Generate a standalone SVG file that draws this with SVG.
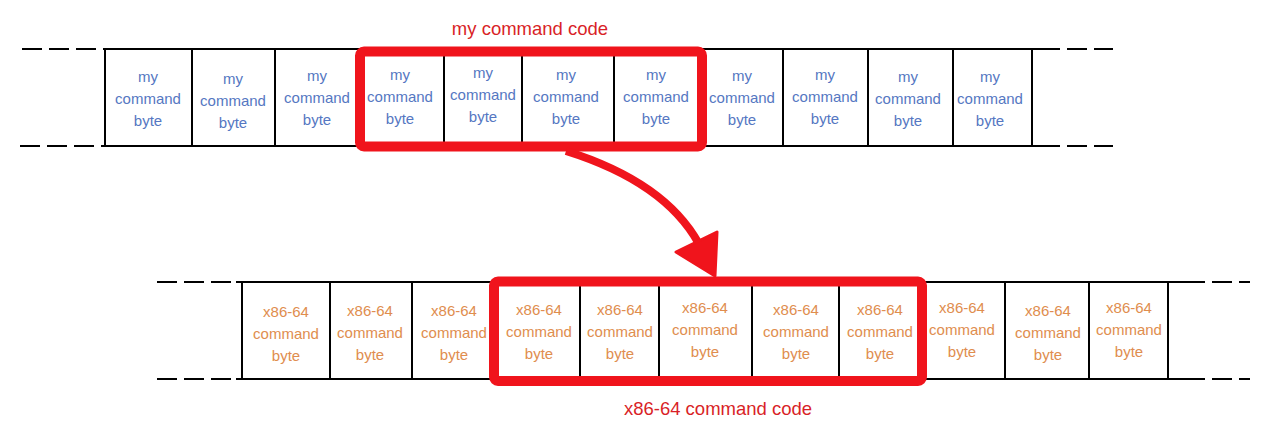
<svg xmlns="http://www.w3.org/2000/svg" width="1280" height="445" viewBox="0 0 1280 445">
<style>
.bg{fill:#ffffff}
.ln{stroke:#000;stroke-width:2;fill:none}
.dash{stroke:#000;stroke-width:2;fill:none;stroke-dasharray:20 7}
.hl{stroke:#f0141c;stroke-width:10;fill:none}
.my{font-family:"Liberation Sans",Arial,sans-serif;font-size:15px;fill:#5577c2;text-anchor:middle}
.xx{font-family:"Liberation Sans",Arial,sans-serif;font-size:15px;fill:#e08d4e;text-anchor:middle}
.ttl{font-family:"Liberation Sans",Arial,sans-serif;font-size:18.5px;fill:#d91f27;text-anchor:middle}
</style>
<defs>
<g id="mytext"><text class="my" y="0">my</text><text class="my" y="22">command</text><text class="my" y="44">byte</text></g>
<g id="xxtext"><text class="xx" y="0">x86-64</text><text class="xx" y="22">command</text><text class="xx" y="44">byte</text></g>
</defs>
<rect class="bg" x="0" y="0" width="1280" height="445"/>

<g id="top-strip">
<line class="dash" x1="22" y1="49" x2="104" y2="49"/>
<line class="dash" x1="20" y1="146" x2="104" y2="146"/>
<line class="ln" x1="104" y1="49" x2="1040" y2="49"/>
<line class="ln" x1="104" y1="146" x2="1040" y2="146"/>
<line class="dash" x1="1040" y1="49" x2="1113" y2="49"/>
<line class="dash" x1="1040" y1="146" x2="1113" y2="146"/>
<line class="ln" x1="1032" y1="49" x2="1032" y2="146"/>
</g>

<g id="top-cells">
<g id="t1"><line class="ln" x1="105" y1="49" x2="105" y2="146"/><use href="#mytext" x="148" y="82"/></g>
<g id="t2"><line class="ln" x1="192" y1="49" x2="192" y2="146"/><use href="#mytext" x="233" y="84"/></g>
<g id="t3"><line class="ln" x1="275" y1="49" x2="275" y2="146"/><use href="#mytext" x="317" y="81"/></g>
<g id="t4"><line class="ln" x1="360" y1="49" x2="360" y2="146"/><use href="#mytext" x="400" y="80"/></g>
<g id="t5"><line class="ln" x1="444" y1="49" x2="444" y2="146"/><use href="#mytext" x="483" y="78"/></g>
<g id="t6"><line class="ln" x1="522" y1="49" x2="522" y2="146"/><use href="#mytext" x="566" y="80"/></g>
<g id="t7"><line class="ln" x1="614" y1="49" x2="614" y2="146"/><use href="#mytext" x="656" y="80"/></g>
<g id="t8"><line class="ln" x1="702" y1="49" x2="702" y2="146"/><use href="#mytext" x="742" y="81"/></g>
<g id="t9"><line class="ln" x1="783" y1="49" x2="783" y2="146"/><use href="#mytext" x="825" y="80"/></g>
<g id="t10"><line class="ln" x1="868" y1="49" x2="868" y2="146"/><use href="#mytext" x="908" y="82"/></g>
<g id="t11"><line class="ln" x1="953" y1="49" x2="953" y2="146"/><use href="#mytext" x="990" y="82"/></g>
</g>

<g id="bottom-strip">
<line class="dash" x1="157" y1="282" x2="240" y2="282"/>
<line class="dash" x1="157" y1="379" x2="240" y2="379"/>
<line class="ln" x1="236" y1="282" x2="1185" y2="282"/>
<line class="ln" x1="236" y1="379" x2="1185" y2="379"/>
<line class="dash" x1="1185" y1="282" x2="1250" y2="282"/>
<line class="dash" x1="1185" y1="379" x2="1250" y2="379"/>
<line class="ln" x1="1168" y1="282" x2="1168" y2="379"/>
</g>

<g id="bottom-cells">
<g id="b1"><line class="ln" x1="242" y1="282" x2="242" y2="379"/><use href="#xxtext" x="286" y="317"/></g>
<g id="b2"><line class="ln" x1="330" y1="282" x2="330" y2="379"/><use href="#xxtext" x="370" y="316"/></g>
<g id="b3"><line class="ln" x1="412" y1="282" x2="412" y2="379"/><use href="#xxtext" x="454" y="316"/></g>
<g id="b4"><line class="ln" x1="494" y1="282" x2="494" y2="379"/><use href="#xxtext" x="539" y="315"/></g>
<g id="b5"><line class="ln" x1="580" y1="282" x2="580" y2="379"/><use href="#xxtext" x="620" y="315"/></g>
<g id="b6"><line class="ln" x1="659" y1="282" x2="659" y2="379"/><use href="#xxtext" x="705" y="313"/></g>
<g id="b7"><line class="ln" x1="752" y1="282" x2="752" y2="379"/><use href="#xxtext" x="796" y="315"/></g>
<g id="b8"><line class="ln" x1="839" y1="282" x2="839" y2="379"/><use href="#xxtext" x="880" y="315"/></g>
<g id="b9"><line class="ln" x1="922" y1="282" x2="922" y2="379"/><use href="#xxtext" x="962" y="313"/></g>
<g id="b10"><line class="ln" x1="1005" y1="282" x2="1005" y2="379"/><use href="#xxtext" x="1048" y="316"/></g>
<g id="b11"><line class="ln" x1="1089" y1="282" x2="1089" y2="379"/><use href="#xxtext" x="1129" y="313"/></g>
</g>

<g id="my-code">
<rect class="hl" x="360" y="51.5" width="342" height="95" rx="4"/>
<text class="ttl" x="530" y="35">my command code</text>
</g>

<g id="x86-code">
<rect class="hl" x="494" y="281.5" width="428" height="99.5" rx="4"/>
<text class="ttl" x="718" y="415">x86-64 command code</text>
</g>

<g id="connectors">
<path d="M 566 151 Q 665 182 699 244" stroke="#f0141c" stroke-width="8" fill="none"/>
<path d="M 676 252 L 717 232 L 715 276 Z" fill="#f0141c" stroke="#f0141c" stroke-width="3" stroke-linejoin="round"/>
</g>
</svg>
